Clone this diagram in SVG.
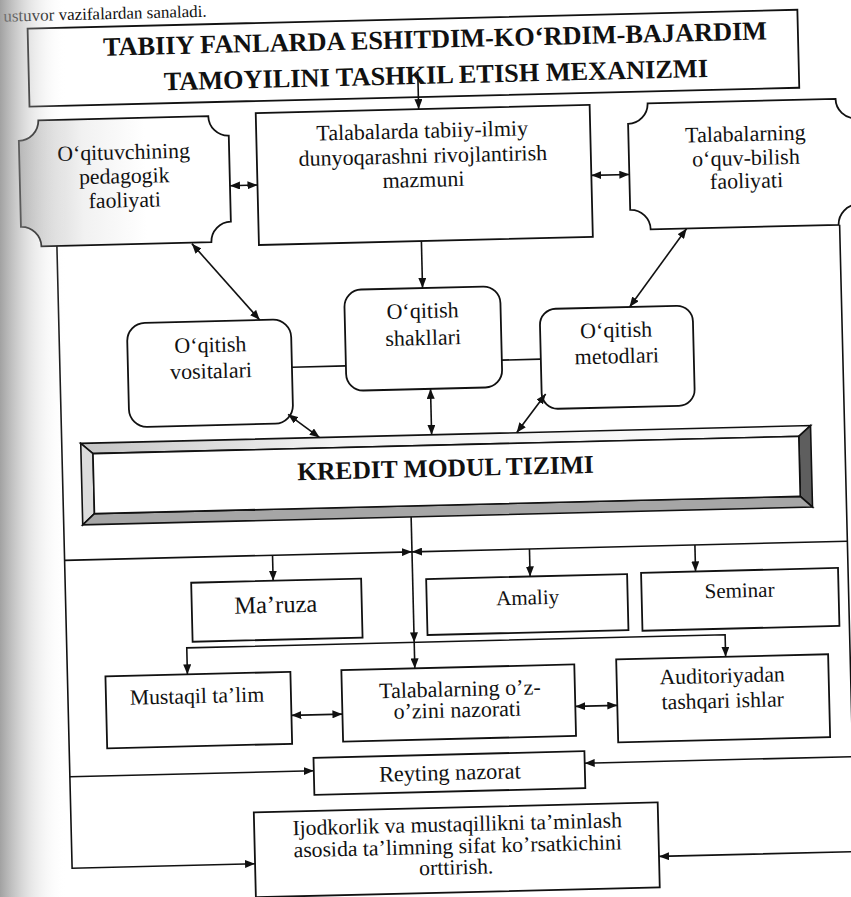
<svg xmlns="http://www.w3.org/2000/svg" width="851" height="897" viewBox="0 0 851 897">
<style>
.box{fill:#fff;stroke:#111;stroke-width:1.8}
.ln{fill:none;stroke:#111;stroke-width:1.6}
.arr{marker-end:url(#ah)}
.dbl{marker-start:url(#ah);marker-end:url(#ah)}
text{font-family:"Liberation Serif","Times New Roman",serif;fill:#111;text-anchor:middle}
.t{font-size:21.7px}
.t21{font-size:21px}
.t22{font-size:22px}
.tb{font-size:26.3px;font-weight:bold}
</style>
<defs>
<marker id="ah" viewBox="0 0 10 8" refX="10" refY="4" markerWidth="10" markerHeight="8" markerUnits="userSpaceOnUse" orient="auto-start-reverse">
<path d="M0,0 L10,4 L0,8 z" fill="#111"/>
</marker>
<linearGradient id="edge" x1="0" y1="0" x2="1" y2="0">
<stop offset="0" stop-color="#8a8a8a" stop-opacity="0.8"/>
<stop offset="0.45" stop-color="#b5b5b5" stop-opacity="0.35"/>
<stop offset="1" stop-color="#ffffff" stop-opacity="0"/>
</linearGradient>
<linearGradient id="lbox" x1="0" y1="0" x2="1" y2="0">
<stop offset="0" stop-color="#c9c9c9"/>
<stop offset="0.3" stop-color="#f1f1f1"/>
<stop offset="0.6" stop-color="#ffffff"/>
</linearGradient>
<linearGradient id="topbev" x1="0" y1="0" x2="1" y2="0">
<stop offset="0" stop-color="#c4c4c4"/>
<stop offset="0.35" stop-color="#f4f4f4"/>
<stop offset="1" stop-color="#fafafa"/>
</linearGradient>
</defs>
<rect x="0" y="0" width="851" height="897" fill="#fff"/>
<g transform="rotate(-1.4 425 450)">
<text x="14" y="11.5" style="font-size:17px;text-anchor:start">ustuvor vazifalardan sanaladi.</text>

<g id="title">
<rect class="box" x="38" y="19" width="770" height="78"/>
<text class="tb" x="445" y="48">TABIIY FANLARDA ESHITDIM-KO‘RDIM-BAJARDIM</text>
<text class="tb" x="445" y="84">TAMOYILINI TASHKIL ETISH MEXANIZMI</text>
</g>

<g id="pedagog">
<path d="M46.5,111 H216.5 A20 20 0 0 0 236.5,131 V217 A20 20 0 0 0 216.5,237 H46.5 A20 20 0 0 0 26.5,217 V131 A20 20 0 0 0 46.5,111 Z" fill="url(#lbox)" stroke="#111" stroke-width="1.8"/>
<text class="t" x="131" y="152">O‘qituvchining</text>
<text class="t" x="131" y="176">pedagogik</text>
<text class="t" x="131" y="200">faoliyati</text>
</g>

<g id="mazmun">
<rect class="box" x="264" y="109" width="334" height="132"/>
<text class="t22" x="430" y="138">Talabalarda tabiiy-ilmiy</text>
<text class="t22" x="430" y="163">dunyoqarashni rivojlantirish</text>
<text class="t22" x="430" y="187">mazmuni</text>
</g>

<g id="oquv">
<path d="M656,109 H844 A20 20 0 0 0 864,129 V215 A20 20 0 0 0 844,235 H656 A20 20 0 0 0 636,215 V129 A20 20 0 0 0 656,109 Z" class="box"/>
<text class="t22" x="753" y="149">Talabalarning</text>
<text class="t22" x="753" y="173">o‘quv-bilish</text>
<text class="t22" x="753" y="196">faoliyati</text>
</g>

<g id="vositalar">
<rect class="box" x="130" y="316" width="164" height="104" rx="18"/>
<text class="t22" x="213" y="347">O‘qitish</text>
<text class="t22" x="213" y="373">vositalari</text>
</g>

<g id="shakllar">
<rect class="box" x="348" y="288" width="156" height="101" rx="17"/>
<text class="t22" x="426" y="318">O‘qitish</text>
<text class="t22" x="426" y="345">shakllari</text>
</g>

<g id="metodlar">
<rect class="box" x="543" y="312" width="153" height="100" rx="16"/>
<text class="t22" x="619" y="342">O‘qitish</text>
<text class="t22" x="619" y="368">metodlari</text>
</g>

<g id="kredit">
<polygon points="81,435 811,435 799,445.5 93,445.5" fill="url(#topbev)" stroke="#111" stroke-width="1.6"/>
<polygon points="81,435 93,445.5 93,505.5 81,516.5" fill="#dcdcdc" stroke="#111" stroke-width="1.6"/>
<polygon points="811,435 811,516.5 799,505.5 799,445.5" fill="#5e5e5e" stroke="#111" stroke-width="1.6"/>
<polygon points="93,505.5 799,505.5 811,516.5 81,516.5" fill="#a6a6a6" stroke="#111" stroke-width="1.6"/>
<rect x="93" y="445.5" width="706" height="60" fill="#fff" stroke="#111" stroke-width="1.6"/>
<text x="445" y="477" style="font-size:25.5px;font-weight:bold">KREDIT MODUL TIZIMI</text>
</g>

<g id="maruza">
<rect class="box" x="188" y="577" width="170" height="59"/>
<text x="272" y="609" style="font-size:24.5px">Ma’ruza</text>
</g>

<g id="amaliy">
<rect class="box" x="423" y="579" width="201" height="56"/>
<text class="t21" x="524" y="607">Amaliy</text>
</g>

<g id="seminar">
<rect class="box" x="638" y="578" width="197" height="58"/>
<text class="t21" x="736" y="605">Seminar</text>
</g>

<g id="mustaqil">
<rect class="box" x="100" y="668.5" width="185" height="72"/>
<text class="t" x="191" y="697.5">Mustaqil ta’lim</text>
</g>

<g id="ozini">
<rect class="box" x="336" y="668" width="233" height="71.5"/>
<text class="t22" x="454" y="697">Talabalarning o’z-</text>
<text class="t22" x="451" y="718">o’zini nazorati</text>
</g>

<g id="auditoriya">
<rect class="box" x="611" y="664" width="212" height="83"/>
<text class="t" x="716.5" y="690">Auditoriyadan</text>
<text class="t" x="716.5" y="715">tashqari ishlar</text>
</g>

<g id="reyting">
<rect class="box" x="306" y="755" width="271" height="37"/>
<text x="442" y="780.5" style="font-size:22.3px">Reyting nazorat</text>
</g>

<g id="ijodkorlik">
<rect class="box" x="245" y="808" width="404" height="85"/>
<text class="t" x="448" y="832">Ijodkorlik va mustaqillikni ta’minlash</text>
<text class="t" x="448" y="854">asosida ta’limning sifat ko’rsatkichini</text>
<text class="t" x="446" y="875">orttirish.</text>
</g>

<g id="connectors">
<path class="ln arr" d="M427,72 V109"/>
<path class="ln dbl" d="M236.5,181 H264"/>
<path class="ln dbl" d="M598,179.5 H636"/>
<path class="ln arr" d="M426.5,241 V288"/>
<path class="ln dbl" d="M197,238 L263,316"/>
<path class="ln dbl" d="M692,235 L633,312"/>
<path class="ln" d="M294,364 H348"/>
<path class="ln" d="M504,362 H543"/>
<path class="ln dbl" d="M289,411 L320,435"/>
<path class="ln dbl" d="M432,389 V435"/>
<path class="ln dbl" d="M547,397 L517,435"/>
<path class="ln arr" d="M409.5,516.5 V642"/>
<path class="ln arr" d="M409.5,642 V668"/>
<path class="ln arr" d="M62,551.5 H409.5"/>
<path class="ln arr" d="M845,551.5 H409.5"/>
<path class="ln arr" d="M270,551.5 V577"/>
<path class="ln arr" d="M527,551.5 V579"/>
<path class="ln arr" d="M692.5,551.5 V578"/>
<path class="ln dbl" d="M182,668.5 V642 H720.5 V664"/>
<path class="ln dbl" d="M285,712 H336"/>
<path class="ln dbl" d="M569,710 H611"/>
<path class="ln arr" d="M62,237 V859.5 H245"/>
<path class="ln arr" d="M62,768 H306"/>
<path class="ln arr" d="M845,235 V862 H649"/>
<path class="ln arr" d="M845,767 H577"/>
</g>
</g>
<rect x="0" y="0" width="66" height="897" fill="url(#edge)"/>
</svg>
